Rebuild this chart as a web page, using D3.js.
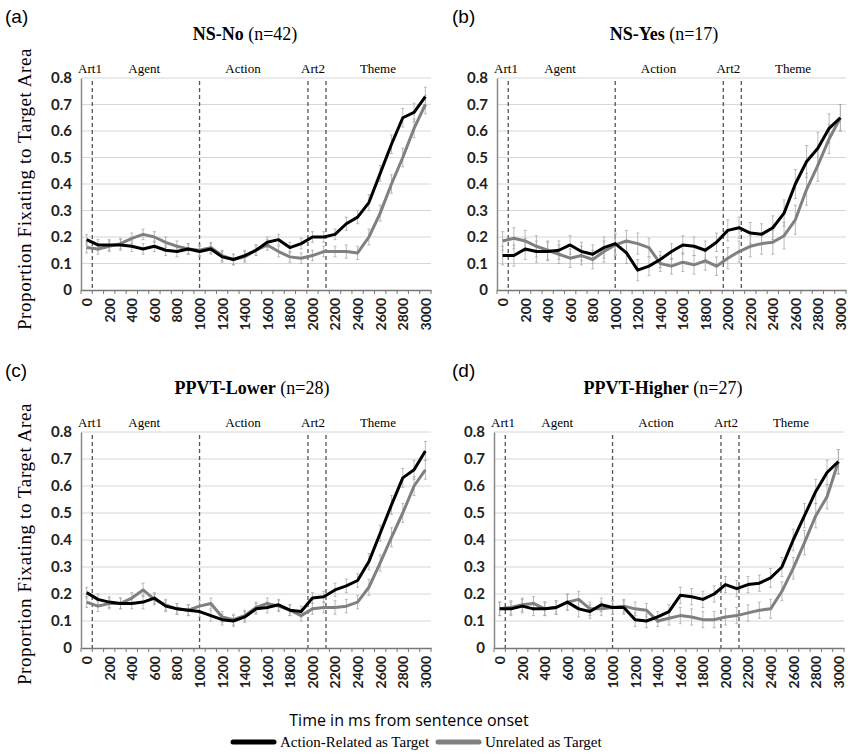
<!DOCTYPE html>
<html>
<head>
<meta charset="utf-8">
<script src="https://cdn.jsdelivr.net/npm/d3@7"></script>
<style>
  body { margin: 0; background: #fff; }
  svg { display: block; }
</style>
</head>
<body>
<svg width="848" height="755"></svg>
<script>
// time points (ms from sentence onset)
const times = [0, 100, 200, 300, 400, 500, 600, 700, 800, 900, 1000, 1100, 1200, 1300, 1400, 1500,
  1600, 1700, 1800, 1900, 2000, 2100, 2200, 2300, 2400, 2500, 2600, 2700, 2800, 2900, 3000];
const xTickLabels = [0, 200, 400, 600, 800, 1000, 1200, 1400, 1600, 1800, 2000, 2200, 2400, 2600, 2800, 3000];
const yTicks = [0, 0.1, 0.2, 0.3, 0.4, 0.5, 0.6, 0.7, 0.8];
const boundaries = [50, 1000, 1960, 2120];
const regionLabels = ["Art1", "Agent", "Action", "Art2", "Theme"];
const regionCenters = [30, 510, 1385, 2005, 2580];
const seriesNames = ["Action-Related as Target", "Unrelated as Target"];

// (a) NS-No
const actionA = [0.19, 0.17, 0.17, 0.17, 0.165, 0.155, 0.165, 0.15, 0.145, 0.155, 0.145, 0.155, 0.125, 0.115, 0.13, 0.15,
  0.18, 0.19, 0.16, 0.175, 0.2, 0.2, 0.21, 0.25, 0.275, 0.33, 0.44, 0.55, 0.65, 0.67, 0.73];
const unrelA = [0.16, 0.155, 0.165, 0.175, 0.195, 0.21, 0.2, 0.18, 0.165, 0.155, 0.15, 0.16, 0.13, 0.115, 0.125, 0.15,
  0.17, 0.145, 0.125, 0.12, 0.13, 0.145, 0.145, 0.145, 0.14, 0.2, 0.29, 0.4, 0.5, 0.61, 0.7];
const errA = [0.02, 0.02, 0.02, 0.02, 0.02, 0.02, 0.02, 0.02, 0.02, 0.02, 0.02, 0.02, 0.02, 0.02, 0.02, 0.02,
  0.02, 0.02, 0.02, 0.02, 0.02, 0.02, 0.02, 0.025, 0.025, 0.03, 0.03, 0.035, 0.035, 0.035, 0.035];

// (b) NS-Yes
const actionB = [0.13, 0.13, 0.155, 0.145, 0.145, 0.15, 0.17, 0.145, 0.135, 0.16, 0.175, 0.14, 0.075, 0.09, 0.115, 0.145,
  0.17, 0.165, 0.15, 0.18, 0.225, 0.235, 0.215, 0.21, 0.235, 0.29, 0.4, 0.485, 0.535, 0.61, 0.65];
const unrelB = [0.185, 0.195, 0.185, 0.165, 0.15, 0.135, 0.12, 0.13, 0.115, 0.145, 0.17, 0.185, 0.175, 0.16, 0.1, 0.09,
  0.105, 0.095, 0.11, 0.09, 0.12, 0.145, 0.165, 0.175, 0.18, 0.205, 0.265, 0.38, 0.47, 0.57, 0.65];
const errB = [0.035, 0.04, 0.04, 0.04, 0.035, 0.035, 0.035, 0.035, 0.035, 0.04, 0.04, 0.04, 0.04, 0.035, 0.03, 0.03,
  0.035, 0.035, 0.035, 0.035, 0.04, 0.04, 0.04, 0.04, 0.045, 0.05, 0.055, 0.06, 0.06, 0.055, 0.05];

// (c) PPVT-Lower
const actionC = [0.205, 0.18, 0.17, 0.165, 0.165, 0.17, 0.185, 0.155, 0.145, 0.14, 0.135, 0.12, 0.105, 0.1, 0.115, 0.145,
  0.15, 0.16, 0.14, 0.135, 0.185, 0.19, 0.215, 0.23, 0.25, 0.32, 0.425, 0.53, 0.63, 0.66, 0.73];
const unrelC = [0.17, 0.155, 0.165, 0.165, 0.185, 0.215, 0.18, 0.16, 0.145, 0.14, 0.155, 0.165, 0.115, 0.105, 0.12, 0.15,
  0.165, 0.155, 0.14, 0.12, 0.145, 0.15, 0.15, 0.155, 0.17, 0.225, 0.315, 0.41, 0.5, 0.6, 0.66];
const errC = [0.02, 0.02, 0.02, 0.02, 0.02, 0.025, 0.02, 0.02, 0.02, 0.02, 0.02, 0.02, 0.02, 0.02, 0.02, 0.02,
  0.02, 0.02, 0.02, 0.02, 0.02, 0.02, 0.025, 0.025, 0.025, 0.03, 0.03, 0.035, 0.035, 0.035, 0.035];

// (d) PPVT-Higher
const actionD = [0.145, 0.145, 0.155, 0.145, 0.145, 0.15, 0.17, 0.145, 0.135, 0.16, 0.15, 0.15, 0.105, 0.1, 0.115, 0.135,
  0.195, 0.19, 0.18, 0.2, 0.235, 0.22, 0.235, 0.24, 0.26, 0.3, 0.4, 0.49, 0.58, 0.65, 0.69];
const unrelD = [0.145, 0.15, 0.16, 0.165, 0.145, 0.15, 0.17, 0.18, 0.145, 0.145, 0.15, 0.155, 0.145, 0.14, 0.1, 0.11,
  0.12, 0.115, 0.105, 0.105, 0.115, 0.12, 0.13, 0.14, 0.145, 0.21, 0.295, 0.39, 0.49, 0.56, 0.69];
const errD = [0.025, 0.025, 0.025, 0.025, 0.025, 0.025, 0.03, 0.03, 0.025, 0.025, 0.025, 0.025, 0.025, 0.025, 0.02, 0.025,
  0.03, 0.03, 0.03, 0.03, 0.03, 0.03, 0.03, 0.03, 0.035, 0.035, 0.04, 0.045, 0.045, 0.045, 0.045];

const panels = [
  { tag: "(a)", bold: "NS-No", rest: " (n=42)", action: actionA, unrel: unrelA, err: errA,
    left: 81, right: 431, bottom: 290, top: 78, titleX: 245, tagX: 5 },
  { tag: "(b)", bold: "NS-Yes", rest: " (n=17)", action: actionB, unrel: unrelB, err: errB,
    left: 497, right: 846, bottom: 290, top: 78, titleX: 664, tagX: 452 },
  { tag: "(c)", bold: "PPVT-Lower", rest: " (n=28)", action: actionC, unrel: unrelC, err: errC,
    left: 81, right: 431, bottom: 648, top: 432, titleX: 252, tagX: 5 },
  { tag: "(d)", bold: "PPVT-Higher", rest: " (n=27)", action: actionD, unrel: unrelD, err: errD,
    left: 494, right: 844, bottom: 648, top: 432, titleX: 663, tagX: 452 }
];

const svg = d3.select("svg");
const serif = "'Liberation Serif', 'Times New Roman', serif";
const sans = "Lato, 'Open Sans', sans-serif";

function drawPanel(p) {
  const g = svg.append("g");
  const x = d3.scaleLinear().domain([-50, 3050]).range([p.left, p.right]);
  const y = d3.scaleLinear().domain([0, 0.8]).range([p.bottom, p.top]);

  // panel tag
  g.append("text")
    .attr("x", p.tagX).attr("y", p.top - 55)
    .attr("font-family", "'Liberation Sans', Arial, sans-serif")
    .attr("font-size", 19)
    .text(p.tag);

  // title
  const title = g.append("text")
    .attr("x", p.titleX).attr("y", p.top - 38)
    .attr("text-anchor", "middle")
    .attr("font-family", serif)
    .attr("font-size", 18);
  title.append("tspan").attr("font-weight", "bold").text(p.bold);
  title.append("tspan").text(p.rest);

  // gridlines
  g.selectAll(".grid")
    .data(yTicks.slice(1))
    .enter()
    .append("line")
    .attr("x1", p.left).attr("x2", p.right)
    .attr("y1", (d) => y(d)).attr("y2", (d) => y(d))
    .attr("stroke", "#d6d6d6")
    .attr("stroke-width", 1);

  // y axis
  const yAxis = g.append("g")
    .attr("transform", `translate(${p.left},0)`)
    .call(d3.axisLeft(y).tickValues(yTicks).tickSize(0).tickPadding(9).tickFormat((d) => d === 0 ? "0" : d3.format(".1f")(d)));
  yAxis.select(".domain").attr("stroke", "#888").attr("stroke-width", 1.5);
  yAxis.selectAll("text")
    .attr("font-family", sans).attr("font-weight", "bold").attr("font-size", 15).attr("fill", "#222");

  // x axis
  const xAxis = g.append("g")
    .attr("transform", `translate(0,${p.bottom})`)
    .call(d3.axisBottom(x).tickValues(xTickLabels).tickSize(0).tickFormat((d) => d));
  xAxis.select(".domain").attr("stroke", "#777").attr("stroke-width", 1.5);
  xAxis.selectAll("text")
    .attr("font-family", sans).attr("font-weight", "bold").attr("font-size", 14).attr("fill", "#222")
    .attr("text-anchor", "end")
    .attr("transform", "rotate(-90)")
    .attr("x", -8)
    .attr("y", 0)
    .attr("dy", "0.35em");
  // tick marks between categories
  g.selectAll(".xtick")
    .data(times.map((t) => t - 50).concat([3050]))
    .enter()
    .append("line")
    .attr("x1", (d) => x(d)).attr("x2", (d) => x(d))
    .attr("y1", p.bottom).attr("y2", p.bottom + 4)
    .attr("stroke", "#777").attr("stroke-width", 1);

  // region boundaries
  g.selectAll(".bound")
    .data(boundaries)
    .enter()
    .append("line")
    .attr("x1", (d) => x(d)).attr("x2", (d) => x(d))
    .attr("y1", p.top + 3).attr("y2", p.bottom)
    .attr("stroke", "#555").attr("stroke-width", 1.3)
    .attr("stroke-dasharray", "4,3");

  g.selectAll(".region")
    .data(regionLabels)
    .enter()
    .append("text")
    .attr("x", (d, i) => x(regionCenters[i]))
    .attr("y", p.top - 5)
    .attr("text-anchor", "middle")
    .attr("font-family", serif)
    .attr("font-size", 13)
    .text((d) => d);

  // series
  const series = [
    { values: p.unrel, color: "#808080" },
    { values: p.action, color: "#000" }
  ];
  series.forEach((s) => {
    const eb = g.append("g");
    times.forEach((t, i) => {
      const v = s.values[i];
      const e = p.err[i];
      eb.append("line")
        .attr("x1", x(t)).attr("x2", x(t))
        .attr("y1", y(v - e)).attr("y2", y(v + e))
        .attr("stroke", "#aaa").attr("stroke-width", 0.8);
      [v - e, v + e].forEach((w) => {
        eb.append("line")
          .attr("x1", x(t) - 1.5).attr("x2", x(t) + 1.5)
          .attr("y1", y(w)).attr("y2", y(w))
          .attr("stroke", "#aaa").attr("stroke-width", 0.8);
      });
    });
  });
  series.forEach((s) => {
    const line = d3.line()
      .x((d, i) => x(times[i]))
      .y((d) => y(d));
    g.append("path")
      .datum(s.values)
      .attr("d", line)
      .attr("fill", "none")
      .attr("stroke", s.color)
      .attr("stroke-width", 3)
      .attr("stroke-linejoin", "round");
  });
}

panels.forEach(drawPanel);

// y axis labels
[[189], [544]].forEach(([cy]) => {
  svg.append("text")
    .attr("transform", `translate(31,${cy}) rotate(-90)`)
    .attr("text-anchor", "middle")
    .attr("font-family", serif)
    .attr("font-size", 19)
    .attr("letter-spacing", 0.6)
    .text("Proportion Fixating to Target Area");
});

// x axis label
svg.append("text")
  .attr("x", 409).attr("y", 726)
  .attr("text-anchor", "middle")
  .attr("font-family", "'Open Sans', sans-serif")
  .attr("font-size", 16)
  .text("Time in ms from sentence onset");

// legend
const legend = svg.append("g");
const legendX = [233, 438];
const legendColors = ["#000", "#808080"];
seriesNames.forEach((name, i) => {
  legend.append("line")
    .attr("x1", legendX[i]).attr("x2", legendX[i] + 41)
    .attr("y1", 742).attr("y2", 742)
    .attr("stroke", legendColors[i]).attr("stroke-width", 5)
    .attr("stroke-linecap", "round");
  legend.append("text")
    .attr("x", legendX[i] + 47).attr("y", 747)
    .attr("font-family", serif)
    .attr("font-size", 15)
    .text(name);
});
</script>
</body>
</html>
